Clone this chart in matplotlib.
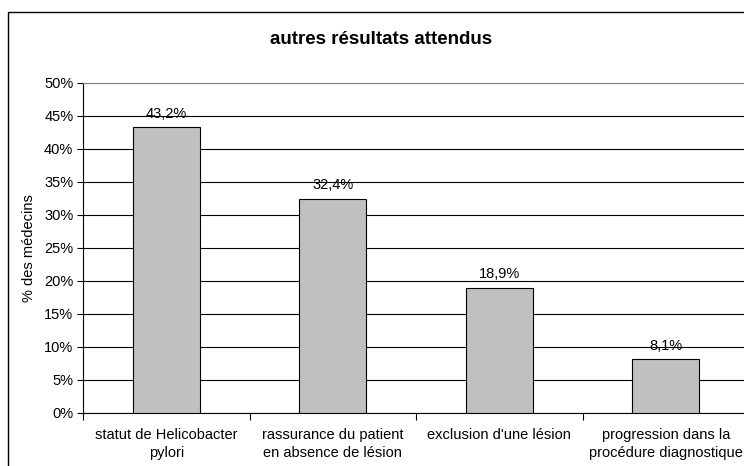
import matplotlib
matplotlib.use("Agg")
import matplotlib.pyplot as plt
from matplotlib.patches import Rectangle

categories = ["statut de Helicobacter\npylori",
              "rassurance du patient\nen absence de lésion",
              "exclusion d'une lésion",
              "progression dans la\nprocédure diagnostique"]
values = [43.2, 32.4, 18.9, 8.1]
labels = ["43,2%", "32,4%", "18,9%", "8,1%"]
yticks = [0, 5, 10, 15, 20, 25, 30, 35, 40, 45, 50]

plt.rcParams['font.family'] = ['Liberation Sans', 'DejaVu Sans']

W, H = 744, 466
fig = plt.figure(figsize=(W/100, H/100), dpi=100)
fig.patch.set_facecolor('white')

# chart border
fig.patches.append(Rectangle((8/W, -0.2), 2, (H-12)/H + 0.2, transform=fig.transFigure,
                             fill=False, edgecolor='black', linewidth=1.0))

FS = 10.5
left, right, top, bottom = 83, 749, 82.5, 413
ax = fig.add_axes([left/W, (H-bottom)/H, (right-left)/W, (bottom-top)/H])
x = list(range(len(categories)))
ax.bar(x, values, width=0.4, color='#C0C0C0', edgecolor='black', linewidth=0.8, zorder=3)
for xi, v, lab in zip(x, values, labels):
    ax.text(xi, v + 1.0, lab, ha='center', va='bottom', fontsize=FS, zorder=4)

ax.set_xlim(-0.5, 3.5)
ax.set_ylim(0, 50)
ax.set_yticks(yticks)
ax.set_yticklabels([f"{t}%" for t in yticks], fontsize=FS)
ax.set_xticks([i + 0.5 for i in range(-1, 4)], minor=False)
ax.set_xticklabels([])
ax.set_xticks(x, minor=True)
ax.set_xticklabels(categories, minor=True, fontsize=FS, linespacing=1.3)
ax.tick_params(axis='x', which='minor', length=0, pad=11)
ax.tick_params(axis='x', which='major', length=5, direction='out', width=0.8)
ax.tick_params(axis='y', length=4, direction='out', width=0.8, pad=3)
ax.yaxis.grid(True, color='black', linewidth=0.8, zorder=0)
for t in ax.yaxis.get_gridlines()[-1:]:
    t.set_color('#808080')
ax.set_axisbelow(True)
ax.spines['top'].set_color('#808080')
ax.spines['right'].set_visible(False)
ax.spines['left'].set_linewidth(0.8)
ax.spines['bottom'].set_linewidth(0.8)
ax.set_ylabel("% des médecins", fontsize=FS, labelpad=6)

fig.text(381/W, 1 - 39/H, "autres résultats attendus", ha='center', va='center',
         fontsize=13.5, fontweight='bold')

fig.savefig("out.png", dpi=100)
